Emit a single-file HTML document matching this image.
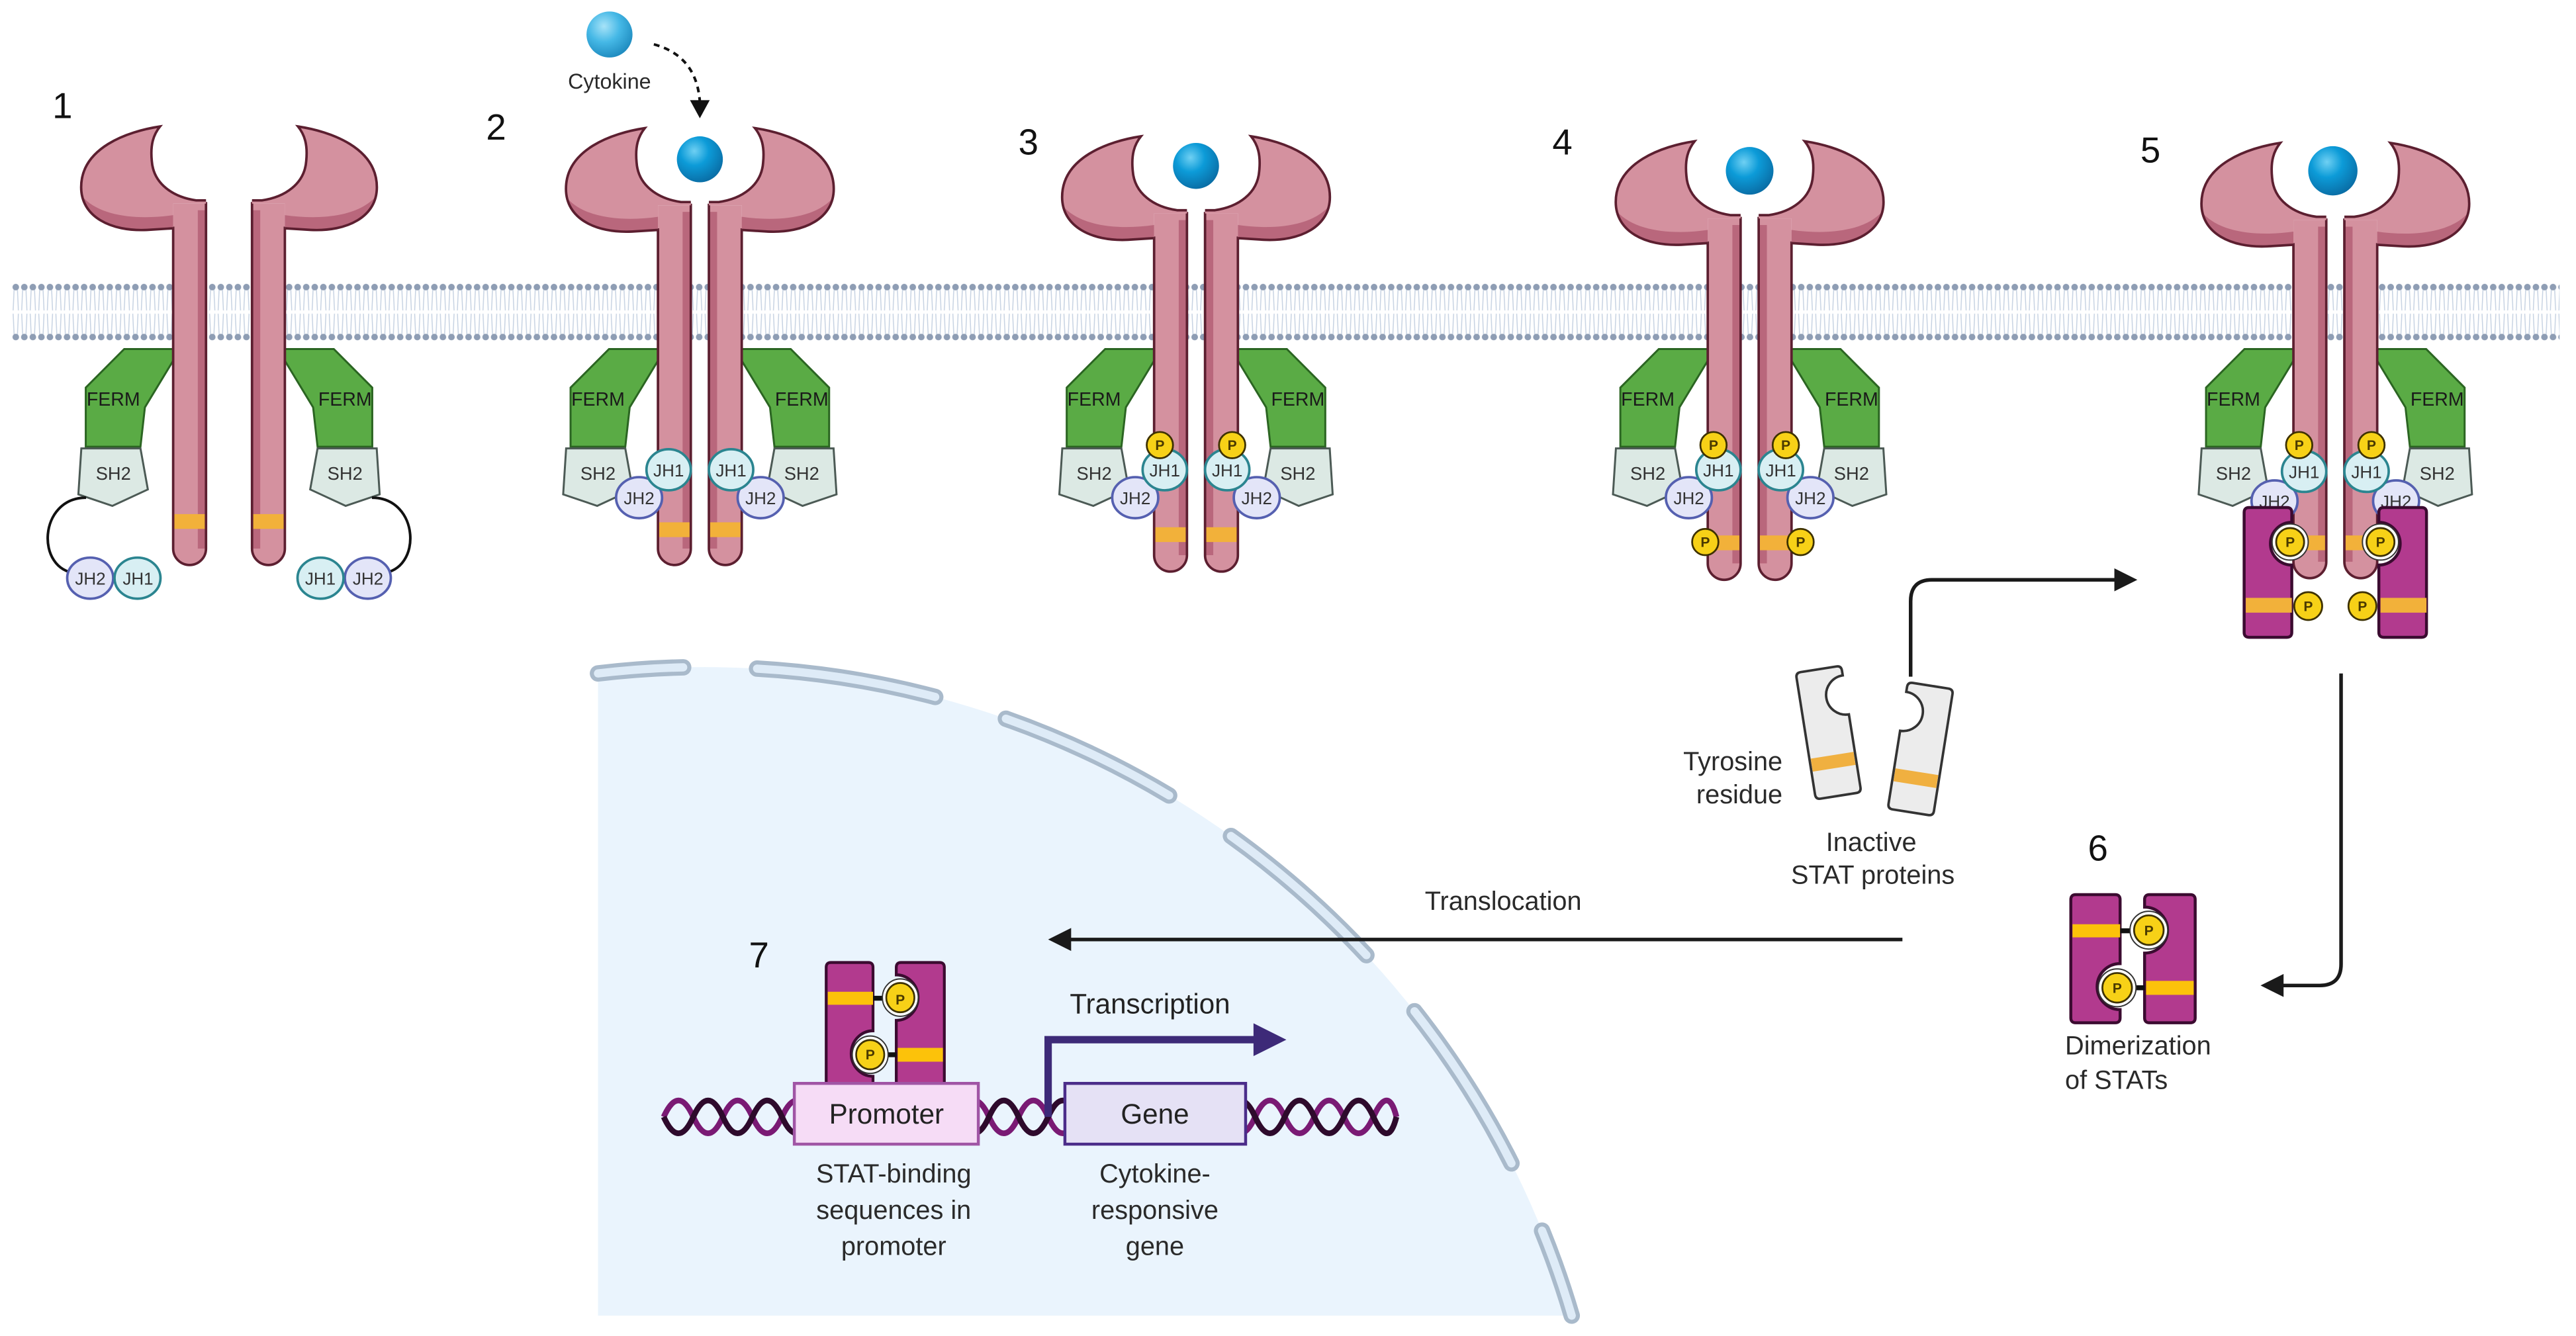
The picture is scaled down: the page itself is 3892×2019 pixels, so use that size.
<!DOCTYPE html>
<html><head><meta charset="utf-8"><style>
html,body{margin:0;padding:0;background:#fff;}
svg{display:block;}
text{font-family:"Liberation Sans",sans-serif;}
</style></head><body>
<svg xmlns="http://www.w3.org/2000/svg" width="3892" height="2019" viewBox="0 0 1568 813.4" preserveAspectRatio="none">
<defs>
<radialGradient id="cyt" cx="0.38" cy="0.32" r="0.7"><stop offset="0" stop-color="#6fd0f3"/><stop offset="0.45" stop-color="#0c9bd8"/><stop offset="1" stop-color="#0a6ea6"/></radialGradient>
<radialGradient id="cyt2" cx="0.38" cy="0.32" r="0.7"><stop offset="0" stop-color="#a7e3f8"/><stop offset="0.5" stop-color="#45b8e6"/><stop offset="1" stop-color="#1f8cc0"/></radialGradient>
<pattern id="mem" x="7" y="0" width="5.2" height="813" patternUnits="userSpaceOnUse">
<line x1="1.6" y1="176" x2="1.0" y2="189" stroke="#c6d2e2" stroke-width="0.6"/>
<line x1="3.6" y1="176" x2="4.2" y2="189" stroke="#c6d2e2" stroke-width="0.6"/>
<line x1="1.0" y1="191" x2="1.6" y2="204" stroke="#c6d2e2" stroke-width="0.6"/>
<line x1="4.2" y1="191" x2="3.6" y2="204" stroke="#c6d2e2" stroke-width="0.6"/>
<circle cx="2.6" cy="174.8" r="2" fill="#8e9db4"/>
<circle cx="2.6" cy="205.2" r="2" fill="#8e9db4"/>
</pattern>
<polygon id="ferm" points="-63.8,212.5 -29.7,212.5 -51.2,248 -53.9,272 -87.2,272 -87.2,236" fill="#5aab45" stroke="#2b6522" stroke-width="1.2"/>
<polygon id="sh2" points="-89.9,273 -53.9,273 -49.4,298 -71,308 -91.7,301" fill="#dce9e4" stroke="#4c5a55" stroke-width="1.2"/>
<g id="head">
<path d="M-42,77 C-62,80 -90,90 -90,114 C-90,132 -72,141 -50,140 L-34,139 L-34,124 L-14,124 L-14,122 L-20,122 C-34,120 -46,112 -47,98 C-48,88 -46,82 -42,77Z" fill="#d4919f"/>
<path d="M-89,120 C-85,135 -70,141 -50,140 L-34,139 L-34,131 C-55,134 -78,132 -89,120Z" fill="#b9677c"/>
<path d="M-34,139 L-50,140 C-72,141 -90,132 -90,114 C-90,90 -62,80 -42,77 C-46,82 -48,88 -47,98 C-46,112 -34,120 -20,122 L-14,122" fill="none" stroke="#5c1f30" stroke-width="1.5"/>
</g>
<g id="g1">
<use href="#ferm"/><use href="#sh2"/>
<path d="M-87,303 C-116,303 -118,347 -93,349" fill="none" stroke="#111" stroke-width="1.6"/>
<path d="M-34,124 V334 A10,10 0 0 0 -14,334 V124Z" fill="#d4919f"/>
<rect x="-19" y="128" width="5" height="206" fill="#b9677c"/>
<rect x="-34" y="313" width="20" height="9" fill="#f2b13a"/>
<path d="M-34,138 V334 A10,10 0 0 0 -14,334 V123" fill="none" stroke="#5c1f30" stroke-width="1.5"/>
<use href="#head"/>
<ellipse cx="-84.5" cy="352" rx="14" ry="12.5" fill="#e3e5f8" stroke="#5560b0" stroke-width="1.5"/>
<ellipse cx="-55.7" cy="352" rx="14" ry="12.5" fill="#d8eff3" stroke="#2b8590" stroke-width="1.5"/>
</g>
<g id="g2">
<g transform="translate(8.5,0)">
<use href="#ferm"/><use href="#sh2"/>
<path d="M-34,125 V334 A10,10 0 0 0 -14,334 V125Z" fill="#d4919f"/>
<rect x="-19" y="129" width="5" height="205" fill="#b9677c"/>
<rect x="-34" y="318" width="20" height="9" fill="#f2b13a"/>
<path d="M-34,139 V334 A10,10 0 0 0 -14,334 V124" fill="none" stroke="#5c1f30" stroke-width="1.5"/>
<use href="#head" transform="translate(0,1)"/>
</g>
<ellipse cx="-37" cy="303" rx="14" ry="12.5" fill="#e3e5f8" stroke="#5560b0" stroke-width="1.5"/>
<ellipse cx="-19" cy="286" rx="13.5" ry="12.5" fill="#d8eff3" stroke="#2b8590" stroke-width="1.5"/>
</g>
<g id="g3">
<g transform="translate(8.5,0)">
<use href="#ferm"/><use href="#sh2"/>
<path d="M-34,130 V338 A10,10 0 0 0 -14,338 V130Z" fill="#d4919f"/>
<rect x="-19" y="134" width="5" height="204" fill="#b9677c"/>
<rect x="-34" y="321" width="20" height="9" fill="#f2b13a"/>
<path d="M-34,144 V338 A10,10 0 0 0 -14,338 V129" fill="none" stroke="#5c1f30" stroke-width="1.5"/>
<use href="#head" transform="translate(0,6)"/>
</g>
<ellipse cx="-37" cy="303" rx="14" ry="12.5" fill="#e3e5f8" stroke="#5560b0" stroke-width="1.5"/>
<ellipse cx="-19" cy="286" rx="13.5" ry="12.5" fill="#d8eff3" stroke="#2b8590" stroke-width="1.5"/>
</g>
<g id="g4">
<g transform="translate(8.5,0)">
<use href="#ferm"/><use href="#sh2"/>
<path d="M-34,133 V343 A10,10 0 0 0 -14,343 V133Z" fill="#d4919f"/>
<rect x="-19" y="137" width="5" height="206" fill="#b9677c"/>
<rect x="-34" y="326" width="20" height="9" fill="#f2b13a"/>
<path d="M-34,147 V343 A10,10 0 0 0 -14,343 V132" fill="none" stroke="#5c1f30" stroke-width="1.5"/>
<use href="#head" transform="translate(0,9)"/>
</g>
<ellipse cx="-37" cy="303" rx="14" ry="12.5" fill="#e3e5f8" stroke="#5560b0" stroke-width="1.5"/>
<ellipse cx="-19" cy="286" rx="13.5" ry="12.5" fill="#d8eff3" stroke="#2b8590" stroke-width="1.5"/>
</g>
<g id="g5">
<g transform="translate(8.5,0)">
<use href="#ferm"/><use href="#sh2"/>
<path d="M-34,134 V342 A10,10 0 0 0 -14,342 V134Z" fill="#d4919f"/>
<rect x="-19" y="138" width="5" height="204" fill="#b9677c"/>
<rect x="-34" y="326" width="20" height="9" fill="#f2b13a"/>
<path d="M-34,148 V342 A10,10 0 0 0 -14,342 V133" fill="none" stroke="#5c1f30" stroke-width="1.5"/>
<use href="#head" transform="translate(0,10)"/>
</g>
<ellipse cx="-37" cy="305" rx="14" ry="12.5" fill="#e3e5f8" stroke="#5560b0" stroke-width="1.5"/>
<ellipse cx="-19" cy="287" rx="13.5" ry="12.5" fill="#d8eff3" stroke="#2b8590" stroke-width="1.5"/>
</g>
<g id="dimer">
<path d="M3,0 H27 Q30,0 30,3 V42 A14,14 0 0 0 30,70 V75 Q30,78 27,78 H3 Q0,78 0,75 V3 Q0,0 3,0Z" fill="#b23a8e" stroke="#3b0b30" stroke-width="1.8"/>
<path d="M47.9,0 H72.7 Q75.7,0 75.7,3 V75 Q75.7,78 72.7,78 H47.9 Q44.9,78 44.9,75 V35.6 A14,14 0 0 0 44.9,7.6 V3 Q44.9,0 47.9,0Z" fill="#b23a8e" stroke="#3b0b30" stroke-width="1.8"/>
<rect x="1" y="18" width="29" height="8" fill="#fcc20a"/>
<rect x="45.8" y="52.5" width="29" height="8.5" fill="#fcc20a"/>
<line x1="30" y1="22" x2="40" y2="22" stroke="#111" stroke-width="3"/>
<line x1="35" y1="56.7" x2="45" y2="56.7" stroke="#111" stroke-width="3"/>
<circle cx="47.5" cy="21.6" r="11.5" fill="#fff" stroke="#333" stroke-width="0.8"/>
<circle cx="28.2" cy="56.7" r="11.5" fill="#fff" stroke="#333" stroke-width="0.8"/>
<circle cx="47.5" cy="21.6" r="9" fill="#f7d117" stroke="#3d3100" stroke-width="1.1"/>
<circle cx="28.2" cy="56.7" r="9" fill="#f7d117" stroke="#3d3100" stroke-width="1.1"/>
</g>
</defs>

<rect width="1568" height="813.4" fill="#fff"/>

<path d="M364,410 A550,550 0 0 1 956.7,801 L364,801 Z" fill="#eaf4fd"/>
<path d="M364,410 A550,550 0 0 1 956.7,801" fill="none" stroke="#a9bacb" stroke-width="10" stroke-linecap="round" stroke-dasharray="110 45" stroke-dashoffset="58"/>
<path d="M364,410 A550,550 0 0 1 956.7,801" fill="none" stroke="#deebf7" stroke-width="5" stroke-linecap="round" stroke-dasharray="110 45" stroke-dashoffset="58"/>

<rect x="7" y="171" width="1551" height="37" fill="url(#mem)"/>

<use href="#g1" transform="translate(139.4,0)"/>
<use href="#g1" transform="translate(139.4,0) scale(-1,1)"/>
<use href="#g2" transform="translate(426,0)"/>
<use href="#g2" transform="translate(426,0) scale(-1,1)"/>
<use href="#g3" transform="translate(728,0)"/>
<use href="#g3" transform="translate(728,0) scale(-1,1)"/>
<use href="#g4" transform="translate(1065,0)"/>
<use href="#g4" transform="translate(1065,0) scale(-1,1)"/>
<use href="#g5" transform="translate(1421.5,0)"/>
<use href="#g5" transform="translate(1421.5,0) scale(-1,1)"/>

<circle cx="371" cy="21" r="14" fill="url(#cyt2)"/>
<circle cx="426" cy="97" r="14" fill="url(#cyt)"/>
<circle cx="728" cy="101" r="14" fill="url(#cyt)"/>
<circle cx="1065" cy="104" r="14.5" fill="url(#cyt)"/>
<circle cx="1420" cy="104" r="15" fill="url(#cyt)"/>
<path d="M398,27 Q424,34 426,62" fill="none" stroke="#111" stroke-width="1.6" stroke-dasharray="3.5 3"/>
<polygon points="420,61 432,61 426,72" fill="#111"/>

<g font-size="11.5" fill="#1a1a1a" text-anchor="middle">
<text x="69" y="247">FERM</text><text x="210" y="247">FERM</text>
<text x="364" y="247">FERM</text><text x="488" y="247">FERM</text>
<text x="666" y="247">FERM</text><text x="790" y="247">FERM</text>
<text x="1003" y="247">FERM</text><text x="1127" y="247">FERM</text>
<text x="1359.5" y="247">FERM</text><text x="1483.5" y="247">FERM</text>
</g>
<g font-size="11" fill="#333" text-anchor="middle">
<text x="69" y="292">SH2</text><text x="210" y="292">SH2</text>
<text x="364" y="292">SH2</text><text x="488" y="292">SH2</text>
<text x="666" y="292">SH2</text><text x="790" y="292">SH2</text>
<text x="1003" y="292">SH2</text><text x="1127" y="292">SH2</text>
<text x="1359.5" y="292">SH2</text><text x="1483.5" y="292">SH2</text>
</g>
<g font-size="10.5" fill="#333" text-anchor="middle">
<text x="55" y="356">JH2</text><text x="84" y="356">JH1</text>
<text x="195" y="356">JH1</text><text x="224" y="356">JH2</text>
<text x="407" y="290">JH1</text><text x="389" y="307">JH2</text>
<text x="445" y="290">JH1</text><text x="463" y="307">JH2</text>
<text x="709" y="290">JH1</text><text x="691" y="307">JH2</text>
<text x="747" y="290">JH1</text><text x="765" y="307">JH2</text>
<text x="1046" y="290">JH1</text><text x="1028" y="307">JH2</text>
<text x="1084" y="290">JH1</text><text x="1102" y="307">JH2</text>
<text x="1402.5" y="291">JH1</text><text x="1384.5" y="309">JH2</text>
<text x="1440.5" y="291">JH1</text><text x="1458.5" y="309">JH2</text>
</g>

<g fill="#f7d117" stroke="#3d3100" stroke-width="1.1">
<circle cx="706" cy="271" r="8"/><circle cx="750" cy="271" r="8"/>
<circle cx="1043" cy="271" r="8"/><circle cx="1087" cy="271" r="8"/>
<circle cx="1038" cy="330" r="8"/><circle cx="1096" cy="330" r="8"/>
<circle cx="1399.5" cy="271" r="8"/><circle cx="1443.5" cy="271" r="8"/>
</g>

<path d="M1369,309 H1392 Q1395,309 1395,312 V318 A13,13 0 0 0 1395,344 V385 Q1395,388 1392,388 H1369 Q1366,388 1366,385 V312 Q1366,309 1369,309Z" fill="#b23a8e" stroke="#3b0b30" stroke-width="1.8"/>
<path d="M1451,309 H1474 Q1477,309 1477,312 V385 Q1477,388 1474,388 H1451 Q1448,388 1448,385 V344 A13,13 0 0 0 1448,318 V312 Q1448,309 1451,309Z" fill="#b23a8e" stroke="#3b0b30" stroke-width="1.8"/>
<rect x="1367" y="364" width="28" height="9" fill="#f2b13a"/>
<rect x="1449" y="364" width="28" height="9" fill="#f2b13a"/>
<circle cx="1394" cy="330" r="11" fill="#fff" stroke="#333" stroke-width="0.8"/>
<circle cx="1449" cy="330" r="11" fill="#fff" stroke="#333" stroke-width="0.8"/>
<g fill="#f7d117" stroke="#3d3100" stroke-width="1.1">
<circle cx="1394" cy="330" r="8.5"/><circle cx="1449" cy="330" r="8.5"/>
<circle cx="1405" cy="369" r="8.5"/><circle cx="1438" cy="369" r="8.5"/>
</g>

<use href="#dimer" transform="translate(1260.5,544.7)"/>
<use href="#dimer" transform="translate(502.9,586) scale(0.95,0.99)"/>

<g font-size="8.5" font-weight="bold" fill="#4a3a00" text-anchor="middle">
<text x="706" y="274">P</text><text x="750" y="274">P</text>
<text x="1043" y="274">P</text><text x="1087" y="274">P</text>
<text x="1038" y="333">P</text><text x="1096" y="333">P</text>
<text x="1399.5" y="274">P</text><text x="1443.5" y="274">P</text>
<text x="1394" y="333">P</text><text x="1449" y="333">P</text>
<text x="1405" y="372">P</text><text x="1438" y="372">P</text>
<text x="1308" y="569.5">P</text><text x="1288.7" y="604.5">P</text>
<text x="548" y="611.5">P</text><text x="529.7" y="645">P</text>
</g>

<g transform="translate(1113,446) rotate(-9)">
<path d="M-11,-39 H11 Q14,-39 14,-36 V-33 A12,12 0 0 0 14,-9 V36 Q14,39 11,39 H-11 Q-14,39 -14,36 V-36 Q-14,-39 -11,-39Z" fill="#ececec" stroke="#333" stroke-width="1.5"/>
<rect x="-13.2" y="14" width="26.4" height="8" fill="#f0b040"/>
</g>
<g transform="translate(1169,456) rotate(9)">
<path d="M-11,-39 H11 Q14,-39 14,-36 V36 Q14,39 11,39 H-11 Q-14,39 -14,36 V-9 A12,12 0 0 0 -14,-33 V-36 Q-14,-39 -11,-39Z" fill="#ececec" stroke="#333" stroke-width="1.5"/>
<rect x="-13.2" y="14" width="26.4" height="8" fill="#f0b040"/>
</g>

<g fill="none" stroke="#1a1a1a" stroke-width="2.2">
<path d="M1163,412 V366 Q1163,353 1176,353 H1290"/>
<path d="M1425,410 V587 Q1425,600 1412,600 H1388"/>
<path d="M1158,572 H650"/>
</g>
<polygon points="1301,353 1287,346 1287,360" fill="#1a1a1a"/>
<polygon points="1376,600 1390,593 1390,607" fill="#1a1a1a"/>
<polygon points="638,572 652,565 652,579" fill="#1a1a1a"/>

<path d="M404,680 Q413,660 422,680 T440,680 T458,680 T476,680 T494,680 T512,680 T530,680 T548,680 T566,680 T584,680 T602,680 T620,680 T638,680 T656,680 T674,680 T692,680 T710,680 T728,680 T746,680 T764,680 T782,680 T800,680 T818,680 T836,680 T850,680" fill="none" stroke="#7a1a74" stroke-width="3.5"/>
<path d="M404,680 Q413,700 422,680 T440,680 T458,680 T476,680 T494,680 T512,680 T530,680 T548,680 T566,680 T584,680 T602,680 T620,680 T638,680 T656,680 T674,680 T692,680 T710,680 T728,680 T746,680 T764,680 T782,680 T800,680 T818,680 T836,680 T850,680" fill="none" stroke="#2e0a2c" stroke-width="3.5"/>
<rect x="483.5" y="659.6" width="112" height="37" fill="#f6dcf6" stroke="#a055a5" stroke-width="1.8"/>
<rect x="648.2" y="659.6" width="110" height="37" fill="#e5e1f5" stroke="#4b2d8a" stroke-width="1.8"/>
<path d="M638,680 V633 H765" fill="none" stroke="#3d2a78" stroke-width="4.5"/>
<polygon points="783,633 763,623 763,643" fill="#3d2a78"/>

<g font-size="17" fill="#222" text-anchor="middle">
<text x="539.6" y="684">Promoter</text>
<text x="703" y="684">Gene</text>
<text x="700" y="617">Transcription</text>
</g>
<g font-size="16" fill="#2a2a2a" text-anchor="middle">
<text x="544" y="720">STAT-binding</text>
<text x="544" y="742">sequences in</text>
<text x="544" y="764">promoter</text>
<text x="703" y="720">Cytokine-</text>
<text x="703" y="742">responsive</text>
<text x="703" y="764">gene</text>
<text x="915" y="554">Translocation</text>
<text x="1139" y="518">Inactive</text>
<text x="1140" y="538">STAT proteins</text>
</g>
<g font-size="16" fill="#2a2a2a" text-anchor="end">
<text x="1085" y="469">Tyrosine</text>
<text x="1085" y="489">residue</text>
</g>
<g font-size="16" fill="#2a2a2a">
<text x="1257" y="642">Dimerization</text>
<text x="1257" y="663">of STATs</text>
</g>
<text x="371" y="54" font-size="13" fill="#2a2a2a" text-anchor="middle">Cytokine</text>
<g font-size="22" fill="#111" text-anchor="middle">
<text x="38" y="72">1</text>
<text x="302" y="85">2</text>
<text x="626" y="94">3</text>
<text x="951" y="94">4</text>
<text x="1309" y="99">5</text>
<text x="1277" y="524">6</text>
<text x="462" y="589">7</text>
</g>
</svg>
</body></html>
